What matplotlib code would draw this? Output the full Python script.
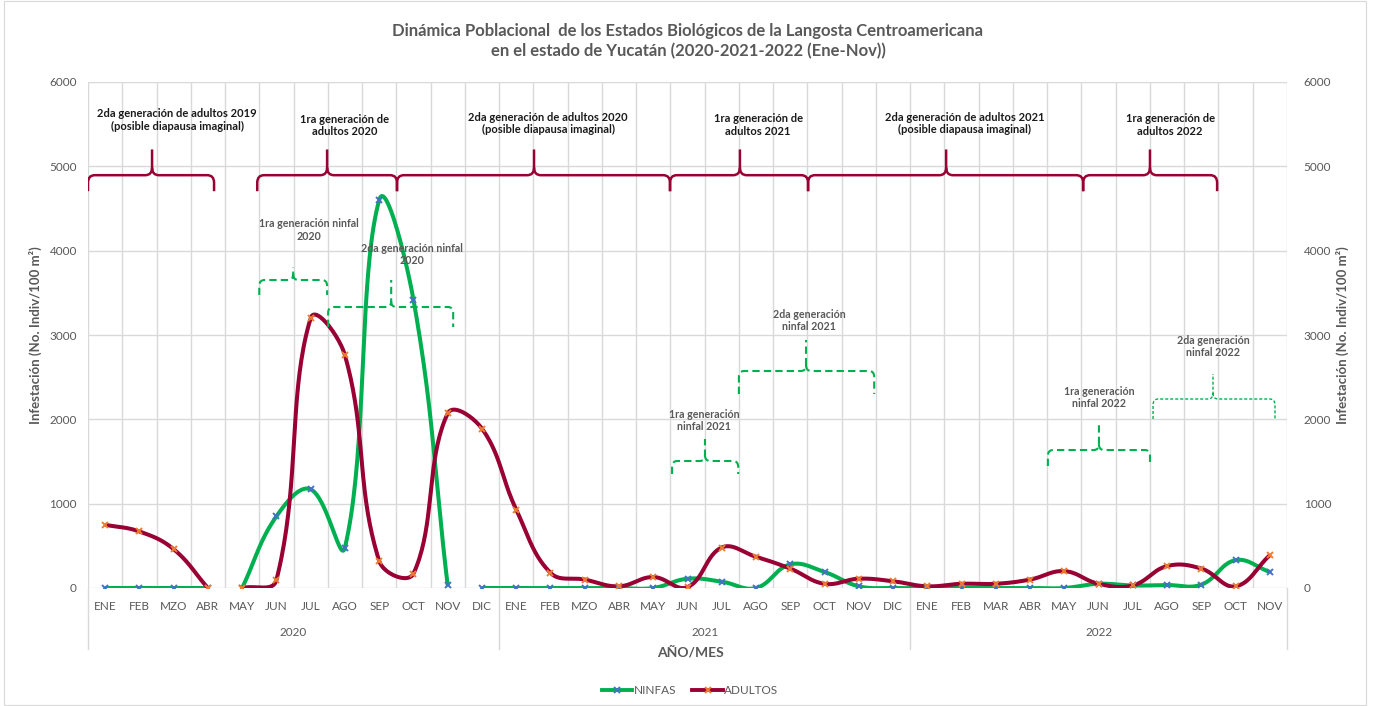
import numpy as np
import matplotlib
matplotlib.use("Agg")
import matplotlib.pyplot as plt
from matplotlib.path import Path
from matplotlib.patches import PathPatch, Rectangle
from matplotlib.lines import Line2D

plt.rcParams["font.family"] = ["Lato", "DejaVu Sans"]

# 1. Datos
meses_2020 = ["ENE", "FEB", "MZO", "ABR", "MAY", "JUN", "JUL", "AGO", "SEP", "OCT", "NOV", "DIC"]
meses_2021 = ["ENE", "FEB", "MZO", "ABR", "MAY", "JUN", "JUL", "AGO", "SEP", "OCT", "NOV", "DIC"]
meses_2022 = ["ENE", "FEB", "MAR", "ABR", "MAY", "JUN", "JUL", "AGO", "SEP", "OCT", "NOV"]
anios = ["2020", "2021", "2022"]

ninfas = [0, 0, 0, 0, 0, 850, 1170, 480, 4600, 3420, 30, 0,
          0, 0, 0, 0, 0, 110, 75, 0, 280, 190, 20, 0,
          0, 0, 0, 0, 0, 50, 30, 35, 40, 330, 190]
adultos = [750, 670, 460, 0, 0, 95, 3200, 2760, 320, 170, 2070, 1890,
           930, 180, 100, 20, 130, 10, 480, 370, 230, 50, 110, 80,
           20, 50, 50, 100, 200, 50, 30, 260, 230, 20, 390]

# tramos continuos de cada serie (indice inicial, final)
tramos_ninfas = [(0, 3), (4, 10), (11, 34)]
tramos_adultos = [(0, 3), (4, 34)]

# llaves de adultos: inicio, fin, punta, texto, (x, y) del texto
llaves_adultos = [
    (-0.5, 3.18, 1.37, "2da generación de adultos 2019\n(posible diapausa imaginal)", 2.1, 5550),
    (4.44, 8.52, 6.48, "1ra generación de\nadultos 2020", 7.0, 5484),
    (8.52, 16.49, 12.52, "2da generación de adultos 2020\n(posible diapausa imaginal)", 12.93, 5508),
    (16.49, 20.52, 18.53, "1ra generación de\nadultos 2021", 19.06, 5490),
    (20.52, 28.55, 24.55, "2da generación de adultos 2021\n(posible diapausa imaginal)", 25.1, 5508),
    (28.55, 32.46, 30.5, "1ra generación de\nadultos 2022", 31.09, 5490),
]
# llaves ninfales: inicio, fin, punta, y horizontal, y extremos, y punta, texto, (x, y)
llaves_ninfas = [
    (4.5, 6.48, 5.49, 3652, 3474, 3806, "1ra generación ninfal\n2020", 5.95, 4245),
    (6.51, 10.16, 8.35, 3332, 3095, 3652, "2da generación ninfal\n2020", 8.96, 3955),
    (16.55, 18.48, 17.51, 1506, 1352, 1767, "1ra generación\nninfal 2021", 17.48, 1986),
    (18.5, 22.45, 20.46, 2573, 2300, 2941, "2da generación\nninfal 2021", 20.55, 3172),
    (27.52, 30.5, 29.01, 1636, 1447, 1933, "1ra generación\nninfal 2022", 29.01, 2259),
    (30.59, 34.15, 32.34, 2241, 2004, 2538, "2da generación\nninfal 2022", 32.34, 2864),
]

VERDE = "#00B050"
GUINDA = "#990033"
AZUL = "#4472C4"
NARANJA = "#ED7D31"
GRIS = "#595959"
REJILLA = "#D9D9D9"

etiquetas = meses_2020 + meses_2021 + meses_2022
x = np.arange(len(etiquetas))

# escala aproximada en pixeles (para el suavizado)
PX_X = 1199 / len(etiquetas)
PX_Y = 506 / 6000


def suavizar(xs, ys, n=40, f=0.4):
    # curva suavizada parecida a la de Excel (bezier con tangentes ponderadas)
    pts = np.column_stack([np.asarray(xs, float) * PX_X, np.asarray(ys, float) * PX_Y])
    ext = np.vstack([pts[:1], pts, pts[-1:]])
    t = np.linspace(0, 1, n)[:, None]
    salida = []
    for i in range(len(pts) - 1):
        p0, p1, p2, p3 = ext[i], ext[i + 1], ext[i + 2], ext[i + 3]
        d01 = np.hypot(*(p1 - p0))
        d12 = np.hypot(*(p2 - p1))
        d23 = np.hypot(*(p3 - p2))
        c1 = p1 + (p2 - p0) * f * d12 / max(d01 + d12, 1e-9)
        c2 = p2 - (p3 - p1) * f * d12 / max(d12 + d23, 1e-9)
        b = ((1 - t) ** 3 * p1 + 3 * (1 - t) ** 2 * t * c1
             + 3 * (1 - t) * t ** 2 * c2 + t ** 3 * p2)
        salida.append(b)
    b = np.vstack(salida)
    return b[:, 0] / PX_X, b[:, 1] / PX_Y


def llave(ax, x0, x1, xt, yh, yend, ytop, color, lw, ls="-", rx=0.2, ry=90):
    verts = [(x0, yend), (x0, yh - ry), (x0, yh), (x0 + rx, yh),
             (xt - rx, yh), (xt, yh), (xt, yh + ry), (xt, ytop),
             (xt, yh + ry), (xt, yh), (xt + rx, yh),
             (x1 - rx, yh), (x1, yh), (x1, yh - ry), (x1, yend)]
    codes = [Path.MOVETO, Path.LINETO, Path.CURVE3, Path.CURVE3,
             Path.LINETO, Path.CURVE3, Path.CURVE3, Path.LINETO,
             Path.MOVETO, Path.CURVE3, Path.CURVE3,
             Path.LINETO, Path.CURVE3, Path.CURVE3, Path.LINETO]
    ax.add_patch(PathPatch(Path(verts, codes), fill=False, edgecolor=color,
                           lw=lw, linestyle=ls, capstyle="butt", zorder=4))


fig = plt.figure(figsize=(13.73, 7.06), dpi=100)
ax = fig.add_axes([88 / 1373, 118 / 706, 1199 / 1373, 506 / 706])

# 2. Series
for serie, tramos, color, mcolor in [(ninfas, tramos_ninfas, VERDE, AZUL),
                                     (adultos, tramos_adultos, GUINDA, NARANJA)]:
    for a, b in tramos:
        xs = x[a:b + 1]
        ys = serie[a:b + 1]
        if len(xs) > 1:
            sx, sy = suavizar(xs, ys)
            ax.plot(sx, sy, color=color, lw=2.9, solid_capstyle="butt", zorder=3)
        ax.plot(xs, ys, ls="none", marker="x", ms=5, mew=1.4, color=mcolor, zorder=3.5)

# 3. Llaves y textos
for x0, x1, xt, texto, tx, ty in llaves_adultos:
    llave(ax, x0, x1, xt, 4895, 4705, 5200, GUINDA, 1.8)
    ax.text(tx, ty, texto, ha="center", va="center", fontsize=8, fontweight="bold",
            color="#1a1a1a", linespacing=1.15, zorder=5)

for i, (x0, x1, xt, yh, ye, yt, texto, tx, ty) in enumerate(llaves_ninfas):
    estilo = (0, (2.2, 1.4)) if i == 5 else (0, (3.5, 2))
    grosor = 1.0 if i == 5 else 1.5
    llave(ax, x0, x1, xt, yh, ye, yt, VERDE, grosor, ls=estilo, rx=0.15, ry=70)
    ax.text(tx, ty, texto, ha="center", va="center", fontsize=7.7, fontweight="bold",
            color=GRIS, linespacing=1.15, zorder=5)

# 4. Ejes
ax.set_xlim(-0.5, len(etiquetas) - 0.5)
ax.set_ylim(0, 6000)
ax.set_yticks(range(0, 6001, 1000))
ax.set_xticks(x)
ax.set_xticklabels(etiquetas)
ax.set_xticks(np.arange(-0.5, len(etiquetas)), minor=True)
ax.grid(which="minor", axis="x", color=REJILLA, lw=1.0)
ax.grid(which="major", axis="y", color=REJILLA, lw=1.0)
ax.set_axisbelow(True)
for s in ax.spines.values():
    s.set_visible(False)
ax.tick_params(axis="x", which="both", length=0, pad=9, labelsize=8.5, labelcolor=GRIS)
ax.tick_params(axis="y", length=0, pad=8, labelsize=8.5, labelcolor=GRIS)

ax2 = ax.twinx()
ax2.set_ylim(0, 6000)
ax2.set_yticks(range(0, 6001, 1000))
for s in ax2.spines.values():
    s.set_visible(False)
ax2.tick_params(axis="y", length=0, pad=12, labelsize=8.5, labelcolor=GRIS)

ylabel = "Infestación (No. Indiv/100 m²)"
ax.set_ylabel(ylabel, fontsize=9.5, fontweight="bold", color=GRIS)
ax.yaxis.set_label_coords(-0.038, 0.5)
ax2.set_ylabel(ylabel, fontsize=9.5, fontweight="bold", color=GRIS)
ax2.yaxis.set_label_coords(1.041, 0.5)

# separadores de anios y etiquetas de anio
tr = ax.get_xaxis_transform()
for xb in [-0.5, 11.5, 23.5, len(etiquetas) - 0.5]:
    ax.plot([xb, xb], [0, -0.12], transform=tr, color=REJILLA, lw=1.0, clip_on=False)
inicio = 0
for anio, meses in zip(anios, [meses_2020, meses_2021, meses_2022]):
    centro = inicio + (len(meses) - 1) / 2
    ax.text(centro, -0.087, anio, transform=tr, ha="center", va="center",
            fontsize=8.5, color=GRIS)
    inicio += len(meses)

fig.text(690 / 1373, 1 - 652 / 706, "AÑO/MES", ha="center", va="center",
         fontsize=10, fontweight="bold", color=GRIS)

fig.text(688 / 1373, 1 - 41 / 706,
         "Dinámica Poblacional  de los Estados Biológicos de la Langosta Centroamericana\n"
         "en el estado de Yucatán (2020-2021-2022 (Ene-Nov))",
         ha="center", va="center", fontsize=12, fontweight="bold", color=GRIS,
         linespacing=1.35)

handles = [Line2D([], [], color=VERDE, lw=2.8, marker="x", ms=5, mew=1.4, mec=AZUL),
           Line2D([], [], color=GUINDA, lw=2.8, marker="x", ms=5, mew=1.4, mec=NARANJA)]
fig.legend(handles, ["NINFAS", "ADULTOS"], loc="center", ncol=2,
           bbox_to_anchor=(690 / 1373, 1 - 691 / 706), frameon=False,
           fontsize=8.5, labelcolor=GRIS, handlelength=2.6, columnspacing=1.4,
           handletextpad=0.1)

fig.patches.append(Rectangle((4 / 1373, 0.002), 1362 / 1373, 0.996,
                             transform=fig.transFigure, fill=False,
                             edgecolor=REJILLA, lw=0.8))

fig.savefig("out.png", dpi=100)
